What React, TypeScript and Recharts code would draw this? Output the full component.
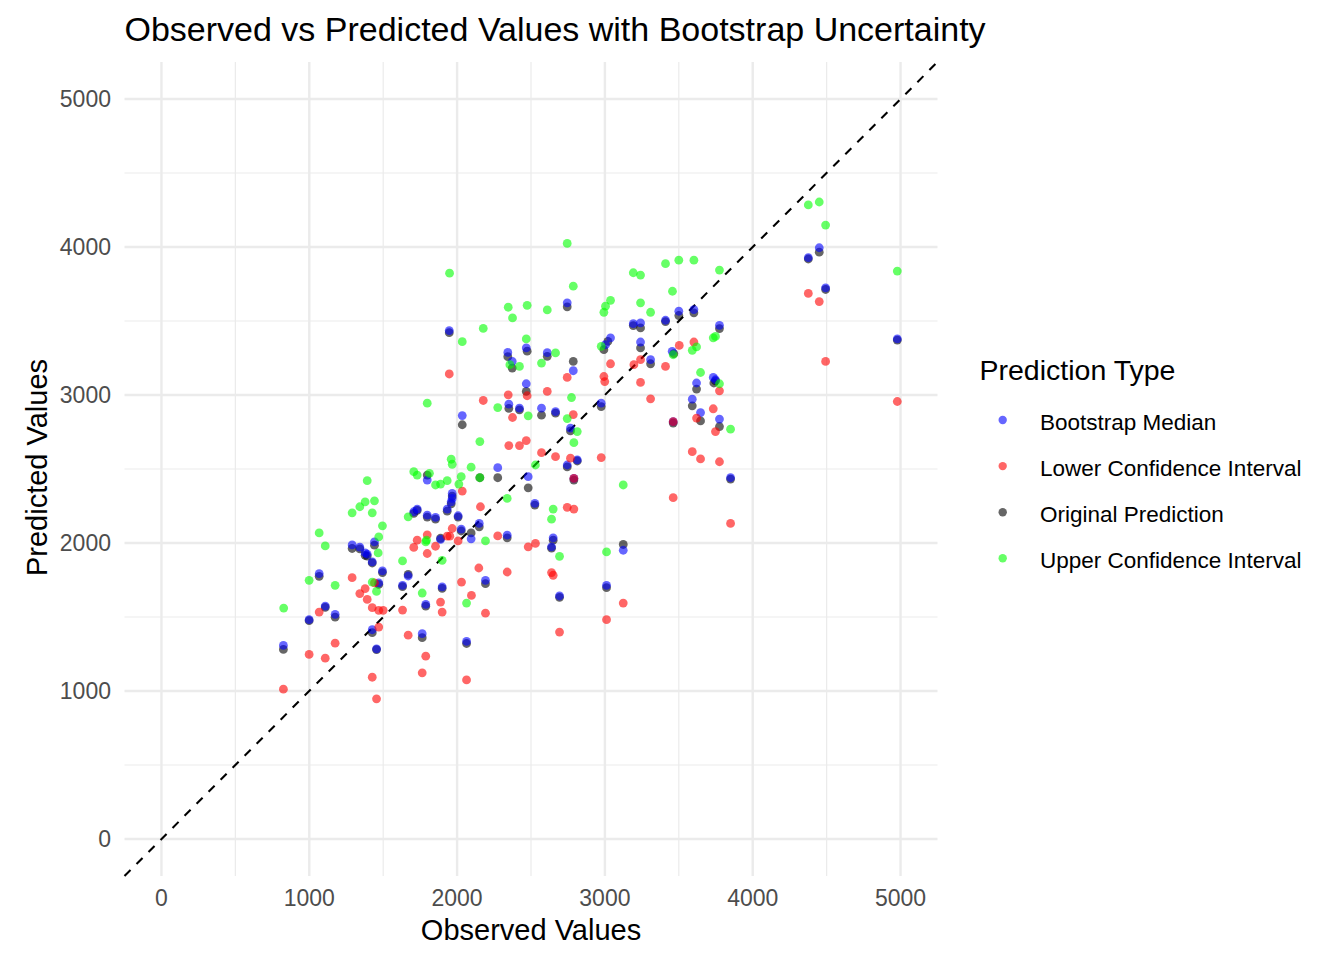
import React from 'react';
import {
  ScatterChart,
  Scatter,
  XAxis,
  YAxis,
  CartesianGrid,
  ReferenceLine,
  Legend,
  Customized,
} from 'recharts';

const FONT = '"Liberation Sans", Arial, Helvetica, sans-serif';

const X_TICKS = [0, 1000, 2000, 3000, 4000, 5000];
const Y_TICKS = [0, 1000, 2000, 3000, 4000, 5000];
const X_MINOR = [500, 1500, 2500, 3500, 4500];
const Y_MINOR = [500, 1500, 2500, 3500, 4500];
const DOMAIN: [number, number] = [-250, 5250];

const SERIES_NAMES = [
  'Bootstrap Median',
  'Lower Confidence Interval',
  'Original Prediction',
  'Upper Confidence Interval',
];
const SERIES_COLORS = ['#0000FF', '#FF0000', '#000000', '#00FF00'];

// [observed, predicted]
const MEDIAN: [number, number][] = [
  [825, 1308], [999, 1482], [1067, 1793], [1108, 1574], [1175, 1518], [1290, 1987], [1342, 1972],
  [1378, 1933], [1392, 1924], [1426, 1872], [1441, 2007], [1455, 1285], [1495, 1811], [1470, 1730],
  [1426, 1414], [1631, 1714], [1669, 1777], [1707, 2211], [1730, 2229], [1798, 2425], [1798, 2188],
  [1788, 1585], [1764, 1387], [1947, 3435], [2035, 2861], [2343, 3288], [2373, 3227], [2468, 3318],
  [2610, 3286], [2786, 3164], [2468, 3076], [2350, 2938], [2422, 2911], [2571, 2911], [2666, 2888],
  [2767, 2776], [2745, 2527], [2790, 2437], [2275, 2509], [2481, 2448], [2526, 2268], [1967, 2335],
  [1967, 2301], [1960, 2278], [1933, 2229], [1854, 2173], [2007, 2184], [2150, 2132], [2028, 2094],
  [2095, 2028], [1888, 2024], [2339, 2053], [2650, 2035], [2639, 1974], [2192, 1748], [2693, 1642],
  [1899, 1703], [2064, 1335], [3192, 3482], [3241, 3487], [3410, 3505], [3500, 3566], [3602, 3577],
  [3775, 3471], [3455, 3295], [3038, 3386], [3004, 3340], [3241, 3358], [3309, 3239], [3733, 3119],
  [3748, 3103], [3620, 3081], [3591, 2972], [3647, 2881], [3775, 2837], [3462, 2820], [2975, 2945],
  [3850, 2441], [3124, 1951], [3011, 1714], [2813, 2561], [2745, 3623], [4450, 3995], [4376, 3928],
  [4493, 3724], [4978, 3379],
];

const ORIGINAL: [number, number][] = [
  [825, 1281], [999, 1475], [1067, 1775], [1108, 1565], [1175, 1499], [1290, 1963], [1342, 1960],
  [1378, 1917], [1392, 1912], [1426, 1865], [1441, 1985], [1455, 1280], [1495, 1800], [1470, 1720],
  [1426, 1394], [1631, 1705], [1669, 1788], [1707, 2200], [1730, 2220], [1798, 2459], [1798, 2175],
  [1788, 1573], [1764, 1360], [1947, 3421], [2035, 2799], [2343, 3259], [2373, 3182], [2474, 3296],
  [2610, 3261], [2786, 3227], [2468, 3024], [2350, 2909], [2422, 2900], [2571, 2864], [2666, 2877],
  [2767, 2757], [2745, 2514], [2790, 2425], [2275, 2441], [2481, 2373], [2526, 2256], [2154, 2441],
  [1967, 2317], [1960, 2265], [1933, 2215], [1854, 2161], [2007, 2175], [2150, 2109], [2028, 2081],
  [2095, 2068], [1888, 2032], [2339, 2035], [2650, 2019], [2639, 1965], [2192, 1725], [2693, 1633],
  [1899, 1693], [2064, 1321], [3192, 3469], [3241, 3453], [3410, 3496], [3500, 3537], [3602, 3555],
  [3775, 3449], [3466, 3279], [3020, 3362], [2993, 3306], [3241, 3318], [3309, 3211], [3737, 3081],
  [3748, 3096], [3620, 3040], [3591, 2927], [3647, 2825], [3775, 2787], [3462, 2810], [2975, 2922],
  [3850, 2432], [3124, 1990], [3011, 1698], [2813, 2554], [2745, 3596], [4450, 3965], [4376, 3919],
  [4493, 3713], [4978, 3371],
];

const LOWER: [number, number][] = [
  [825, 1012], [999, 1247], [1067, 1533], [1108, 1222], [1175, 1323], [1290, 1766], [1342, 1658],
  [1378, 1692], [1392, 1619], [1426, 1563], [1426, 1093], [1441, 1730], [1455, 947], [1470, 1545],
  [1500, 1545], [1470, 1432], [1631, 1547], [1669, 1377], [1730, 2019], [1707, 1970], [1798, 2055],
  [1798, 1929], [1788, 1235], [1764, 1123], [1947, 3142], [2177, 2963], [2474, 2995], [2346, 3001],
  [2610, 3024], [2745, 3119], [2375, 2848], [2786, 2868], [2350, 2658], [2422, 2658], [2468, 2692],
  [2571, 2610], [2666, 2583], [2767, 2573], [2790, 2437], [2035, 2351], [2745, 2241], [2790, 2229],
  [2158, 2245], [1967, 2098], [1933, 2046], [1951, 2046], [1854, 1978], [2007, 2014], [2275, 2048],
  [2481, 1974], [2530, 1997], [2147, 1831], [2030, 1736], [2097, 1646], [2339, 1804], [2639, 1800],
  [2650, 1782], [1888, 1601], [1899, 1533], [2192, 1526], [2693, 1398], [2064, 1075], [3602, 3358],
  [3503, 3335], [3241, 3239], [3196, 3205], [3038, 3211], [3410, 3193], [2993, 3125], [2999, 3091],
  [3241, 3085], [3309, 2974], [3775, 3028], [3733, 2907], [3620, 2844], [3748, 2753], [3462, 2820],
  [3591, 2617], [3647, 2568], [3775, 2549], [2975, 2577], [3462, 2306], [3850, 2132], [3124, 1594],
  [3011, 1482], [4376, 3686], [4450, 3631], [4493, 3227], [4978, 2956],
];

const UPPER: [number, number][] = [
  [827, 1560], [999, 1748], [1067, 2068], [1108, 1980], [1175, 1714], [1290, 2204], [1342, 2245],
  [1378, 2278], [1392, 2421], [1426, 2204], [1441, 2285], [1466, 1933], [1470, 2041], [1495, 2116],
  [1426, 1736], [1455, 1673], [1631, 1879], [1707, 2482], [1730, 2459], [1669, 2177], [1788, 2007],
  [1764, 1662], [1798, 2945], [1949, 3823], [2035, 3360], [2177, 3450], [2154, 2685], [2275, 2915],
  [2357, 3205], [2422, 3193], [2468, 3379], [2375, 3521], [2346, 3593], [2474, 3606], [2610, 3575],
  [2666, 3284], [2571, 3216], [2774, 2983], [2481, 2859], [2745, 2841], [2790, 2678], [2530, 2527],
  [2339, 2301], [2650, 2229], [2639, 2161], [2154, 2441], [2095, 2512], [2028, 2448], [2012, 2398],
  [1960, 2566], [1967, 2532], [1813, 2471], [1854, 2392], [1888, 2398], [1933, 2421], [1793, 2019],
  [2192, 2014], [2693, 1910], [1899, 1883], [2064, 1594], [3192, 3826], [3241, 3810], [3410, 3887],
  [3500, 3911], [3602, 3911], [3775, 3844], [3457, 3701], [3038, 3640], [3004, 3600], [2993, 3559],
  [3241, 3623], [3309, 3559], [2786, 3735], [3733, 3386], [3748, 3396], [3591, 3302], [3620, 3325],
  [3462, 3272], [2975, 3329], [3647, 3152], [3775, 3076], [3850, 2769], [3124, 2392], [3011, 1940],
  [2813, 2753], [2745, 4024], [4376, 4284], [4450, 4304], [4493, 4148], [4978, 3837],
];

const toPoints = (arr: [number, number][]) => arr.map(([x, y]) => ({ x, y }));

const makeDot = (color: string) => (props: any) => {
  const { cx, cy } = props;
  if (cx == null || cy == null) return <g />;
  return <circle cx={cx} cy={cy} r={4.4} fill={color} fillOpacity={0.6} />;
};

const renderLegend = (props: any) => {
  const payload: any[] = props.payload || [];
  const items = SERIES_NAMES.map((name, i) => {
    const p = payload.find((e) => e.value === name);
    return { name, color: p && p.color ? p.color : SERIES_COLORS[i] };
  });
  return (
    <svg width={380} height={240} style={{ display: 'block', overflow: 'visible' }}>
      <text x={19.5} y={40} fontSize={28.5} fontFamily={FONT} fill="#000">
        Prediction Type
      </text>
      {items.map((it, i) => (
        <g key={it.name}>
          <circle cx={42.7} cy={80 + i * 46.1} r={4.2} fill={it.color} fillOpacity={0.6} />
          <text x={80} y={90 + i * 46.1} fontSize={22.5} fontFamily={FONT} fill="#000">
            {it.name}
          </text>
        </g>
      ))}
    </svg>
  );
};

const Titles = () => (
  <g fontFamily={FONT} fill="#000">
    <text x={124.5} y={41} fontSize={34}>
      Observed vs Predicted Values with Bootstrap Uncertainty
    </text>
    <text x={531} y={940} fontSize={29} textAnchor="middle">
      Observed Values
    </text>
    <text transform="translate(46.7,467.5) rotate(-90)" fontSize={29} textAnchor="middle">
      Predicted Values
    </text>
  </g>
);

const DRAW_ORDER = [2, 0, 1, 3];
const SERIES_DATA = [MEDIAN, LOWER, ORIGINAL, UPPER];

export default function App() {
  const tickStyle = { fontSize: 23, fill: '#4D4D4D', fontFamily: FONT };
  return (
    <div style={{ position: 'absolute', left: 0, top: 0, width: 1344, height: 960, background: '#fff', fontFamily: FONT }}>
      <ScatterChart width={1344} height={960} margin={{ top: 62, right: 406.5, bottom: 24, left: 24.5 }}>
        <CartesianGrid stroke="#EBEBEB" strokeWidth={1.2} horizontalValues={Y_MINOR} verticalValues={X_MINOR} />
        <CartesianGrid stroke="#EBEBEB" strokeWidth={2.4} horizontalValues={Y_TICKS} verticalValues={X_TICKS} />
        <XAxis
          type="number"
          dataKey="x"
          domain={DOMAIN}
          ticks={X_TICKS}
          interval={0}
          allowDataOverflow
          axisLine={false}
          tickLine={false}
          tickSize={0}
          tickMargin={14}
          height={60}
          tick={tickStyle}
        />
        <YAxis
          type="number"
          dataKey="y"
          domain={DOMAIN}
          ticks={Y_TICKS}
          interval={0}
          allowDataOverflow
          axisLine={false}
          tickLine={false}
          tickSize={0}
          tickMargin={13.5}
          width={100}
          tick={tickStyle}
        />
        {DRAW_ORDER.map((i) => (
          <Scatter
            key={SERIES_NAMES[i]}
            name={SERIES_NAMES[i]}
            data={toPoints(SERIES_DATA[i])}
            fill={SERIES_COLORS[i]}
            shape={makeDot(SERIES_COLORS[i])}
            isAnimationActive={false}
          />
        ))}
        <ReferenceLine
          segment={[{ x: -250, y: -250 }, { x: 5250, y: 5250 }]}
          stroke="#000"
          strokeWidth={2.1}
          strokeDasharray="8.5 8.5"
          ifOverflow="visible"
        />
        <Legend
          layout="horizontal"
          verticalAlign="middle"
          align="center"
          content={renderLegend}
          wrapperStyle={{ position: 'absolute', left: 960, top: 340, width: 380, height: 240 }}
        />
        <Customized component={Titles} />
      </ScatterChart>
    </div>
  );
}
